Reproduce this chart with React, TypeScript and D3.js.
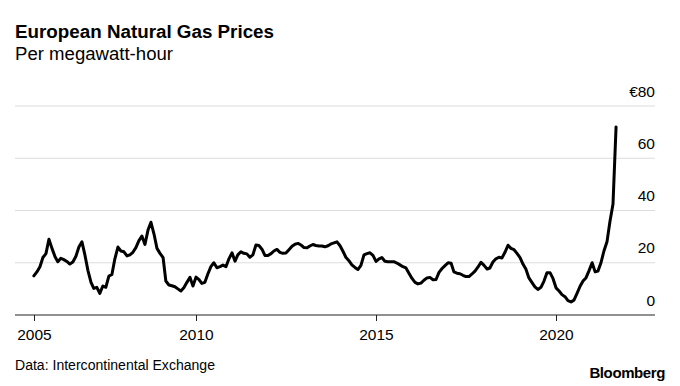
import React from "react";
import * as d3 from "d3";

const TITLE = "European Natural Gas Prices";
const SUBTITLE = "Per megawatt-hour";
const SOURCE = "Data: Intercontinental Exchange";
const BRAND = "Bloomberg";

const START_MONTH = "2005-07";
const prices: number[] = [
  15, 16.5, 18.5, 22, 23.5, 29, 25.5, 22.3, 20.4, 21.7, 21.2, 20.5, 19.5, 20.3, 22.5, 26, 28, 23, 17, 12.5,
  10.2, 10.6, 8.3, 11.1, 10.6, 14.9, 15.5, 21.5, 26, 24.5, 24.2, 22.6, 23, 24, 25.8, 28.5, 30.2, 27, 32.5, 35.5,
  31, 25.5, 23.6, 22, 13, 11.5, 11.2, 10.8, 10, 9.2, 10.5, 12.5, 14.4, 11.1,
  14.5, 13.5, 12.1, 12.5, 15.7, 18.5, 20, 18.1, 18.5, 19.1, 18.5, 21.5, 23.8, 20.6, 23, 24.2, 23.6, 23.4, 22.1, 23,
  26.8, 26.6, 25.2, 22.8, 22.8, 23.5, 24.5, 25.1, 24, 23.6, 23.7, 25, 26.3, 27.1, 27.4, 26.8, 25.8, 25.7, 26.4, 27,
  26.6, 26.4, 26.4, 26.1, 26.5, 27.2, 27.6, 28, 26.5, 24.3, 22.1, 20.8, 19.2, 18.2, 17.4, 19, 23, 23.5, 23.8, 22.8,
  20.5, 21.5, 22, 20.6, 20.4, 20.4, 20.4, 19.9, 19.2, 18.5, 18, 16, 14, 12.5, 11.9, 12.2, 13.3, 14.2, 14.4, 13.5,
  13.6, 16.3, 17.8, 18.9, 20, 19.8, 16.5, 16, 15.8, 15.2, 14.7, 14.7, 15.7, 16.8, 18.4, 20.2, 19, 17.6, 18, 20.3,
  21.5, 22.1, 21.8, 24, 26.7, 25.5, 25, 23.6, 22, 19.4, 17.6, 14.2, 12.5, 10.8, 9.8, 10.6, 13, 16.2, 16.2, 14,
  10.4, 9.2, 7.8, 7, 5.5, 5, 5.7, 8.3, 11, 13, 14.3, 17, 20, 16.5, 16.8, 20, 24.5, 28, 35.8, 42.5, 72,
];

const xTickDates = ["2005-07", "2010-01", "2015-01", "2020-01"];
const xTickLabels = ["2005", "2010", "2015", "2020"];
const yTicks = [0, 20, 40, 60, 80];
const yTickLabels = ["0", "20", "40", "60", "€80"];

const W = 680;
const H = 386;
const FONT = "'Liberation Sans', Arial, Helvetica, sans-serif";

export default function App() {
  const parseMonth = d3.timeParse("%Y-%m");
  const start = parseMonth(START_MONTH)!;
  const dates = prices.map((_, i) => d3.timeMonth.offset(start, i));
  const data = dates.map((d, i) => ({ date: d, value: prices[i] }));

  const x = d3
    .scaleTime()
    .domain([new Date(2005, 0, 1), new Date(2022, 9, 1)])
    .range([16, 655]);
  const y = d3.scaleLinear().domain([0, 80]).range([315, 106]);

  const line = d3
    .line<{ date: Date; value: number }>()
    .x((d) => x(d.date))
    .y((d) => y(d.value))
    .curve(d3.curveLinear);

  const gridLeft = 15;
  const gridRight = 655;

  return (
    <svg
      width={W}
      height={H}
      viewBox={`0 0 ${W} ${H}`}
      style={{ position: "absolute", left: 0, top: 0, background: "#fff" }}
      fontFamily={FONT}
    >
      <rect x={0} y={0} width={W} height={H} fill="#fff" />
      <text x={15} y={38} fontSize={18} fontWeight="bold" fill="#000" textLength={259} lengthAdjust="spacingAndGlyphs">
        {TITLE}
      </text>
      <text x={15} y={60} fontSize={17.5} fill="#000" textLength={158} lengthAdjust="spacingAndGlyphs">
        {SUBTITLE}
      </text>

      {yTicks.map((t) =>
        t === 0 ? null : (
          <line
            key={"g" + t}
            x1={gridLeft}
            x2={gridRight}
            y1={y(t)}
            y2={y(t)}
            stroke="#dcdcdc"
            strokeWidth={1}
          />
        )
      )}
      {yTicks.map((t, i) => (
        <text
          key={"yl" + t}
          x={655}
          y={y(t) - 9.5}
          fontSize={15.5}
          textAnchor="end"
          fill="#000"
        >
          {yTickLabels[i]}
        </text>
      ))}

      <line x1={gridLeft} x2={gridRight} y1={y(0)} y2={y(0)} stroke="#222" strokeWidth={1} />
      {xTickDates.map((s, i) => {
        const xx = Math.round(x(parseMonth(s)!)) + 0.5;
        return (
          <g key={s}>
            <line x1={xx} x2={xx} y1={y(0)} y2={y(0) + 6} stroke="#222" strokeWidth={1} />
            <text x={xx} y={339.5} fontSize={15.5} textAnchor="middle" fill="#000">
              {xTickLabels[i]}
            </text>
          </g>
        );
      })}

      <path
        d={line(data) || ""}
        fill="none"
        stroke="#000"
        strokeWidth={3}
        strokeLinejoin="round"
        strokeLinecap="round"
      />

      <text x={15} y={370} fontSize={14} fill="#000" textLength={200} lengthAdjust="spacingAndGlyphs">
        {SOURCE}
      </text>
      <text x={665} y={378} fontSize={15} fontWeight="bold" textAnchor="end" fill="#000" letterSpacing={-0.4}>
        {BRAND}
      </text>
    </svg>
  );
}
